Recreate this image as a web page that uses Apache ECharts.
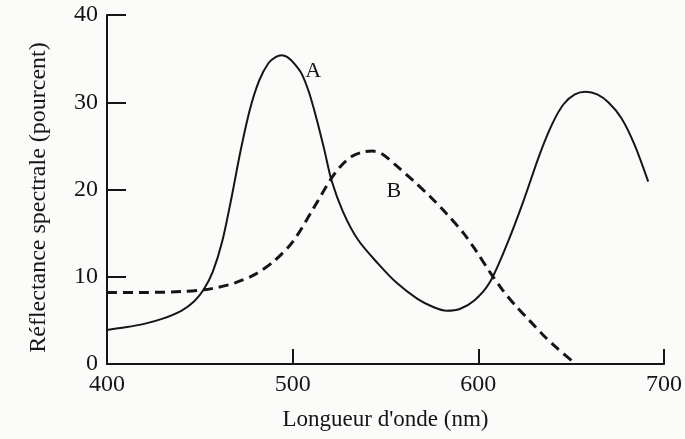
<!DOCTYPE html>
<html>
<head>
<meta charset="utf-8">
<script src="https://cdn.jsdelivr.net/npm/echarts@6/dist/echarts.min.js"></script>
<style>html,body{margin:0;padding:0;background:#fbfbfa;}#c{width:685px;height:439px;}</style>
</head>
<body>
<div id="c"></div>
<script>
// Curve A (solid): [wavelength nm, reflectance %]
const curveA = [
  [400, 3.9], [410, 4.2], [420, 4.6], [430, 5.2], [440, 6.1], [447, 7.2], [452, 8.5],
  [457, 10.6], [462, 14.0], [467, 19.0], [472, 24.5], [477, 29.2], [482, 32.5],
  [487, 34.5], [491, 35.2], [494, 35.4], [497, 35.2], [501, 34.4], [505, 33.2],
  [509, 31.0], [513, 28.0], [517, 24.6], [521, 21.0], [527, 17.5], [535, 14.3],
  [546, 11.5], [556, 9.3], [567, 7.5], [576, 6.5], [583, 6.1], [590, 6.3],
  [598, 7.3], [606, 9.3], [615, 13.5], [624, 18.5], [633, 24.0], [640, 27.6],
  [646, 29.8], [652, 30.9], [658, 31.2], [664, 30.9], [670, 30.0], [677, 28.2],
  [684, 25.2], [691.5, 20.9]
];
// Curve B (dashed)
const curveB = [
  [400, 8.2], [420, 8.2], [440, 8.3], [452, 8.5], [460, 8.8], [469, 9.3], [480, 10.3],
  [490, 11.8], [500, 14.0], [510, 17.4], [520, 21.0], [526, 22.7], [532, 23.8],
  [538, 24.3], [543, 24.4], [548, 24.1], [556, 22.7], [565, 21.0], [574, 19.2],
  [583, 17.2], [592, 15.0], [599, 12.9], [606, 10.6], [613, 8.5], [620, 6.7],
  [627.5, 5.0], [635, 3.3], [643, 1.7], [652.5, 0]
];
const xTicks = [400, 500, 600, 700];
const yTicks = [0, 10, 20, 30, 40];
const curveNames = ['A', 'B'];
const labelAt = [[511, 33.5], [554.5, 19.8]];

const font = '"Liberation Serif", "Times New Roman", serif';
const ink = '#151515';
const chart = echarts.init(document.getElementById('c'));
chart.setOption({
  backgroundColor: '#fbfbfa',
  animation: false,
  grid: { left: 107, right: 16, top: 15, bottom: 75 },
  xAxis: {
    type: 'value', min: xTicks[0], max: xTicks[xTicks.length - 1], interval: 100,
    name: "Longueur d'onde (nm)", nameLocation: 'middle', nameGap: 44,
    nameTextStyle: { fontFamily: font, fontSize: 23, color: ink },
    axisLine: { show: true, lineStyle: { color: ink, width: 2 } },
    axisTick: { show: true, inside: true, length: 15, lineStyle: { color: ink, width: 2 } },
    axisLabel: { fontFamily: font, fontSize: 24, color: ink, margin: 9 },
    splitLine: { show: false }
  },
  yAxis: {
    type: 'value', min: yTicks[0], max: yTicks[yTicks.length - 1], interval: 10,
    name: 'Réflectance spectrale (pourcent)', nameLocation: 'middle', nameGap: 56,
    nameTextStyle: { fontFamily: font, fontSize: 24, color: ink, padding: [0, 16, 0, 0] },
    axisLine: { show: true, lineStyle: { color: ink, width: 2 } },
    axisTick: { show: true, inside: true, length: 19, lineStyle: { color: ink, width: 2 } },
    axisLabel: { fontFamily: font, fontSize: 24, color: ink, margin: 9 },
    splitLine: { show: false }
  },
  series: [
    {
      name: curveNames[0], type: 'line', data: curveA, smooth: 0.3, symbol: 'none',
      lineStyle: { color: ink, width: 2 },
      markPoint: {
        symbol: 'circle', symbolSize: 0,
        label: { show: true, formatter: curveNames[0], fontFamily: font, fontSize: 22, color: ink },
        data: [{ coord: labelAt[0] }]
      }
    },
    {
      name: curveNames[1], type: 'line', data: curveB, smooth: 0.3, symbol: 'none',
      lineStyle: { color: ink, width: 3, type: [10, 6] },
      markPoint: {
        symbol: 'circle', symbolSize: 0,
        label: { show: true, formatter: curveNames[1], fontFamily: font, fontSize: 22, color: ink },
        data: [{ coord: labelAt[1] }]
      }
    }
  ]
});
</script>
</body>
</html>
